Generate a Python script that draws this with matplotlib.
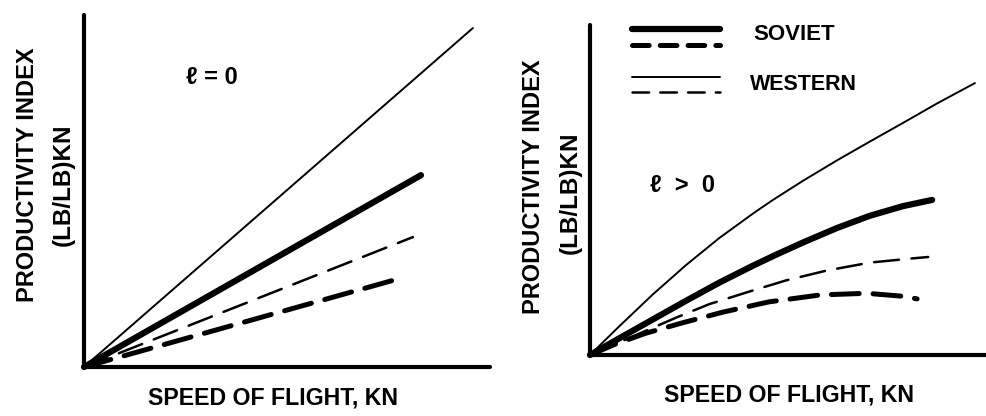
import matplotlib
matplotlib.use("Agg")
import matplotlib.pyplot as plt

# speed vs productivity index (0..100 scale on both axes)
left_x_western = [0, 95.8]
left_y_western = [0, 96.3]
left_x_soviet = [0, 83.0]
left_y_soviet = [0, 54.5]
left_x_western_d = [0, 81.0]
left_y_western_d = [0, 36.9]
left_x_soviet_d = [0, 77.3]
left_y_soviet_d = [0, 25.0]

right_x_western = [0, 7.3, 15.9, 24.2, 32.6, 41.2, 46.2, 53.8, 62.4, 70.7, 79.0, 87.6, 97.2]
right_y_western = [0, 8.6, 18.4, 27.2, 35.4, 42.9, 47.0, 52.8, 59.0, 64.7, 70.3, 76.2, 82.4]
right_x_soviet = [0, 7.3, 15.9, 24.2, 32.6, 41.2, 47.0, 53.8, 62.4, 70.7, 79.0, 86.4]
right_y_soviet = [0, 5.0, 10.8, 16.4, 21.9, 27.1, 30.4, 34.1, 38.5, 42.2, 45.1, 47.0]
right_x_western_d = [0, 10.0, 21.7, 30.1, 40.7, 49.5, 59.8, 70.7, 80.8, 85.4]
right_y_western_d = [0, 5.2, 11.3, 15.4, 19.4, 22.6, 25.6, 28.0, 29.2, 29.7]
right_x_soviet_d = [0, 6.6, 14.1, 23.5, 33.6, 45.2, 58.1, 69.9, 79.0, 82.6]
right_y_soviet_d = [0, 3.4, 6.6, 9.8, 13.0, 16.1, 18.2, 18.7, 17.8, 17.0]

ylabel1 = "PRODUCTIVITY INDEX"
ylabel2 = "(LB/LB)KN"
xlabel = "SPEED OF FLIGHT, KN"

plt.rcParams['font.family'] = ['Liberation Sans', 'DejaVu Sans']
plt.rcParams['font.weight'] = 'bold'
plt.rcParams['lines.scale_dashes'] = False
plt.rcParams['lines.solid_capstyle'] = 'round'
plt.rcParams['lines.dash_capstyle'] = 'round'

W, H = 986, 416
fig = plt.figure(figsize=(W / 100, H / 100), dpi=100)


def px(x, y):
    return x / W, 1 - y / H


def setup(ax):
    for s in ["top", "right"]:
        ax.spines[s].set_visible(False)
    for s in ["left", "bottom"]:
        ax.spines[s].set_linewidth(3)
        ax.spines[s].set_capstyle("round")
    ax.set_xticks([])
    ax.set_yticks([])
    ax.set_xlim(0, 100)
    ax.set_ylim(0, 100)
    ax.patch.set_alpha(0)


thin_w = 1.4
thick_w = 4.5
thin_dash = (18, 9)
thick_dash = (20, 10)

# left panel
ax1 = fig.add_axes([84 / W, (H - 367) / H, (490 - 84) / W, (367 - 15) / H])
setup(ax1)
ax1.plot(left_x_western, left_y_western, color="k", lw=thin_w, clip_on=False)
ax1.plot(left_x_soviet, left_y_soviet, color="k", lw=thick_w, clip_on=False)
ax1.plot(left_x_western_d, left_y_western_d, color="k", lw=1.8, dashes=thin_dash, clip_on=False)
ax1.plot(left_x_soviet_d, left_y_soviet_d, color="k", lw=3.6, dashes=thick_dash, clip_on=False)

# right panel
ax2 = fig.add_axes([590 / W, (H - 355) / H, 396 / W, 330 / H])
setup(ax2)
ax2.plot(right_x_western, right_y_western, color="k", lw=thin_w, clip_on=False)
ax2.plot(right_x_soviet, right_y_soviet, color="k", lw=thick_w, clip_on=False)
ax2.plot(right_x_western_d, right_y_western_d, color="k", lw=1.8, dashes=thin_dash, clip_on=False)
ax2.plot(right_x_soviet_d, right_y_soviet_d, color="k", lw=3.6, dashes=thick_dash, clip_on=False)

# legend drawn as in the original (two line samples per label)
lx = [10.6, 32.8]
ax2.plot(lx, [98.8, 98.8], color="k", lw=thick_w, clip_on=False)
ax2.plot(lx, [93.9, 93.9], color="k", lw=3.6, dashes=(12, 8), clip_on=False)
ax2.plot(lx, [84.2, 84.2], color="k", lw=thin_w, clip_on=False)
ax2.plot(lx, [79.7, 79.7], color="k", lw=1.8, dashes=(12, 8), clip_on=False)
fig.text(*px(753, 35), "SOVIET", fontsize=16, ha="left", va="center")
fig.text(*px(750, 85), "WESTERN", fontsize=15.5, ha="left", va="center")

# labels
fig.text(*px(28, 175), ylabel1, fontsize=17, rotation=90, ha="center", va="center")
fig.text(*px(63, 185), ylabel2, fontsize=17.5, rotation=90, ha="center", va="center")
fig.text(*px(273, 398), xlabel, fontsize=16.7, ha="center", va="center")
fig.text(*px(533, 187), ylabel1, fontsize=17, rotation=90, ha="center", va="center")
fig.text(*px(570, 193), ylabel2, fontsize=17.5, rotation=90, ha="center", va="center")
fig.text(*px(789, 395), xlabel, fontsize=16.7, ha="center", va="center")

fig.text(*px(212, 77), "ℓ = 0", fontsize=17, ha="center", va="center")
fig.text(*px(682, 185), "ℓ  >  0", fontsize=17, ha="center", va="center")

fig.savefig("out.png", dpi=100)
